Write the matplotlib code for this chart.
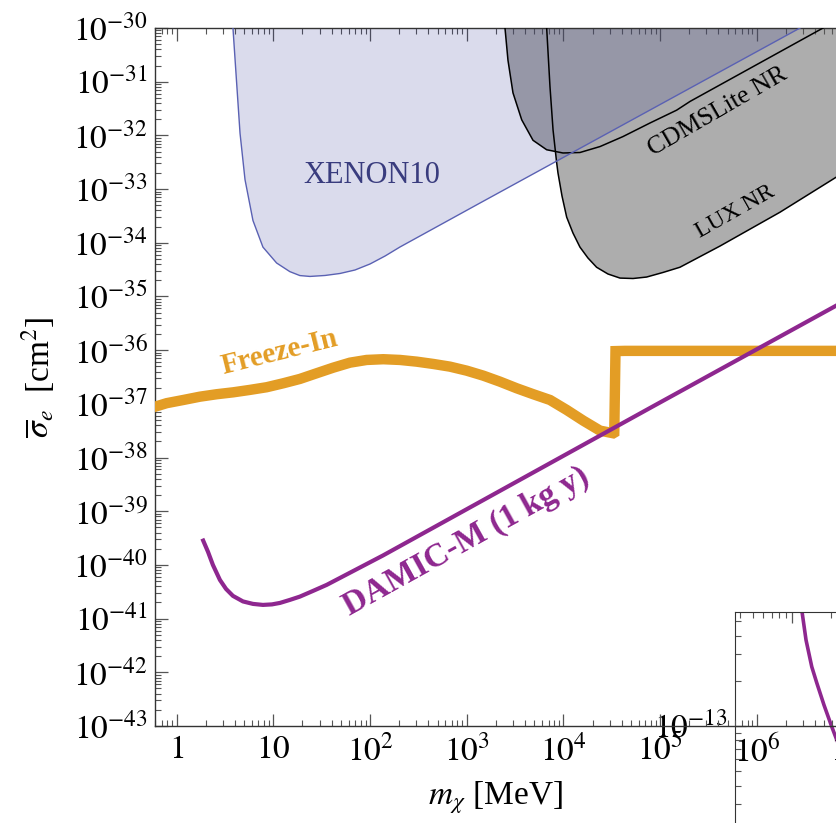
import numpy as np
import matplotlib
matplotlib.use("Agg")
import matplotlib.pyplot as plt
from matplotlib.ticker import LogLocator, FuncFormatter, NullFormatter, FixedLocator

plt.rcParams['font.family'] = ['Liberation Serif', 'DejaVu Serif']
plt.rcParams['mathtext.fontset'] = 'stix'

# ---------------- data ----------------
xenon_m = [3.75, 3.82, 4.17, 4.52, 5.09, 6.15, 7.8, 10.8, 14.8, 18.8, 23.9, 34.2, 48.9, 69.8, 100, 143,
           204, 1370, 2.79e6, 4.0e6]
xenon_s = [1.6e-30, 1.0e-30, 9.5e-32, 1.1e-32, 1.5e-33, 2.6e-34, 8.3e-35, 4.2e-35, 2.9e-35, 2.45e-35,
           2.36e-35, 2.46e-35, 2.68e-35, 3.11e-35, 4.03e-35, 5.67e-35, 8.35e-35, 5.5e-34, 1.0e-30, 1.45e-30]

cdms_m = [2450, 2484, 2667, 3004, 3698, 4840, 6700, 9880, 14800, 23900, 41200, 78400, 148000, 204000, 4.83e6, 6.0e6]
cdms_s = [1.6e-30, 1.0e-30, 2.5e-31, 6.2e-32, 1.95e-32, 8.1e-33, 5.4e-33, 4.7e-33, 4.8e-33, 6.2e-33,
          9.5e-33, 1.7e-32, 2.95e-32, 4.3e-32, 1.0e-30, 1.35e-30]

lux_m = [6600, 6700, 7250, 7800, 8500, 8770, 9650, 10790, 12530, 14800, 17900, 22000, 28840, 38400,
         52360, 72400, 107000, 160000, 416000, 1.73e6, 6.73e6, 2e7]
lux_s = [1.6e-30, 1.0e-30, 8.1e-32, 1.26e-32, 3.1e-33, 2.0e-33, 7.45e-34, 3.0e-34, 1.52e-34, 8.3e-35,
         5.21e-35, 3.5e-35, 2.62e-35, 2.2e-35, 2.16e-35, 2.3e-35, 2.8e-35, 3.5e-35, 8.7e-35, 3.7e-34,
         1.7e-33, 5.0e-33]

freeze_m = [0.5, 0.53, 0.789, 1.17, 1.74, 2.59, 3.85, 5.73, 8.53, 12.7, 18.8, 28.1, 41.6, 62, 92.2, 137,
            204, 303, 451, 670, 998, 1482, 2203, 3281, 4872, 7260, 10790, 16030, 23870, 32730, 33500,
            34500, 43200, 1e6, 2e7]
freeze_s = [7.9e-38, 8.28e-38, 1.03e-37, 1.18e-37, 1.36e-37, 1.51e-37, 1.64e-37, 1.82e-37, 2.04e-37,
            2.42e-37, 2.91e-37, 3.72e-37, 4.72e-37, 5.85e-37, 6.57e-37, 6.78e-37, 6.57e-37, 6.11e-37,
            5.53e-37, 4.93e-37, 4.15e-37, 3.35e-37, 2.59e-37, 1.95e-37, 1.51e-37, 1.18e-37, 7.7e-38,
            4.86e-38, 3.17e-38, 2.83e-38, 2.9e-38, 9.6e-37, 9.7e-37, 9.7e-37, 9.7e-37]

damic_m = [1.88, 2.11, 2.37, 2.80, 3.24, 3.82, 4.85, 6.15, 7.8, 9.67, 11.7, 14.8, 18.8, 25.7, 35.6, 136,
           78700, 6.76e6, 2e7]
damic_s = [2.84e-40, 1.75e-40, 1.0e-40, 5.26e-41, 3.57e-41, 2.65e-41, 2.09e-41, 1.88e-41, 1.80e-41,
           1.84e-41, 1.96e-41, 2.23e-41, 2.57e-41, 3.28e-41, 4.25e-41, 1.5e-40, 8.4e-38, 6.9e-36, 2.0e-35]

inset_m = [11.6, 12.88, 14.26, 15.57, 17.7, 20.3, 22.2, 28.1]
inset_y = [7.1e-13, 3.74e-13, 2.48e-13, 1.94e-13, 1.38e-13, 9.9e-14, 8.07e-14, 5.1e-14]
inset_yticks = [1e-13]

x_ticks = [1, 10, 1e2, 1e3, 1e4, 1e5, 1e6, 1e7]

# ---------------- colours ----------------
c_orange = '#e39d25'
c_purple = '#8e278f'
c_xenon_edge = '#5a61b3'
c_xenon_fill = (0.145, 0.17, 0.56, 0.17)
c_gray = '#adadad'
c_tick = '#555555'

fig = plt.figure(figsize=(8.37, 8.23), dpi=100)

# inset (partially visible at the lower right)
ax_in = fig.add_axes([735 / 837, 1 - 960 / 823, (920 - 735) / 837, (960 - 612) / 823])
ax_in.set_zorder(1)
ax_in.set_xscale('log')
ax_in.set_yscale('log')
ax_in.set_xlim(3.66, 97)
ax_in.set_ylim(2.75e-15, 5.75e-13)
ax_in.plot(inset_m, inset_y, color=c_purple, lw=2.6)
ax_in.yaxis.set_major_locator(FixedLocator(inset_yticks))
ax_in.yaxis.set_major_formatter(FuncFormatter(lambda v, p: r'$10^{%d}$' % int(round(np.log10(v)))))
ax_in.yaxis.set_minor_locator(LogLocator(base=10, subs=np.arange(2, 10), numticks=20))
ax_in.yaxis.set_minor_formatter(NullFormatter())
ax_in.tick_params(which='both', direction='in', top=True, left=True, color=c_tick, labelsize=24, pad=5,
                  labelbottom=False)
ax_in.tick_params(which='major', length=8, width=0.9)
ax_in.tick_params(which='minor', length=4, width=0.8)
for sp in ax_in.spines.values():
    sp.set_color('#333333')

# main axes
ax = fig.add_axes([155 / 837, 1 - 726 / 823, 698.6 / 837, 698 / 823])
ax.set_zorder(2)
ax.patch.set_visible(False)
ax.set_xscale('log')
ax.set_yscale('log')
ax.set_xlim(0.597, 1e7)
ax.set_ylim(1e-43, 1e-30)

# exclusion regions
ax.fill(lux_m + [2e7], lux_s + [1.6e-30], color=c_gray, lw=0, zorder=1)
ax.fill(cdms_m, cdms_s, color=c_gray, lw=0, zorder=1)
ax.fill(xenon_m, xenon_s, color=c_xenon_fill, lw=0, zorder=2)
ax.plot(lux_m, lux_s, color='black', lw=1.1, zorder=3)
ax.plot(cdms_m, cdms_s, color='black', lw=1.1, zorder=3)
ax.plot(xenon_m, xenon_s, color=c_xenon_edge, lw=1.0, zorder=3)

# curves
ax.plot(freeze_m, freeze_s, color=c_orange, lw=7.5, solid_joinstyle='miter', solid_capstyle='butt', zorder=4)
ax.plot(damic_m, damic_s, color=c_purple, lw=3.0, zorder=5)

# annotations
ax.text(105, 1.8e-33, 'XENON10', color='#393c7e', fontsize=22, ha='center', va='center', zorder=6)
ax.text(3.9e5, 2.75e-32, 'CDMSLite NR', color='black', fontsize=18.5, rotation=30,
        ha='center', va='center', rotation_mode='anchor', zorder=6)
ax.text(5.94e5, 3.7e-34, 'LUX NR', color='black', fontsize=17, rotation=29.5,
        ha='center', va='center', rotation_mode='anchor', zorder=6)
ax.text(11.7, 9.3e-37, 'Freeze-In', color=c_orange, fontsize=21, fontweight='bold', rotation=14,
        ha='center', va='center', rotation_mode='anchor', zorder=6)
ax.text(988, 2.8e-40, 'DAMIC-M (1 kg y)', color=c_purple, fontsize=24, fontweight='bold', rotation=29,
        ha='center', va='center', rotation_mode='anchor', zorder=6)

# ticks
ax.xaxis.set_major_locator(FixedLocator(x_ticks))
ax.xaxis.set_minor_locator(LogLocator(base=10, subs=np.arange(2, 10), numticks=20))
ax.yaxis.set_major_locator(LogLocator(base=10, numticks=20))
ax.yaxis.set_minor_locator(LogLocator(base=10, subs=np.arange(2, 10), numticks=20))
ax.xaxis.set_minor_formatter(NullFormatter())
ax.yaxis.set_minor_formatter(NullFormatter())


def xfmt(v, pos):
    e = int(round(np.log10(v)))
    if e == 0:
        return r'$1$'
    if e == 1:
        return r'$10$'
    return r'$10^{%d}$' % e


def yfmt(v, pos):
    e = int(round(np.log10(v)))
    return r'$10^{%d}$' % e


ax.xaxis.set_major_formatter(FuncFormatter(xfmt))
ax.yaxis.set_major_formatter(FuncFormatter(yfmt))
ax.tick_params(which='both', direction='in', top=True, right=True, color=c_tick, labelsize=24)
ax.tick_params(axis='x', pad=6)
ax.tick_params(axis='y', pad=5)
ax.tick_params(which='major', length=9, width=0.9)
ax.tick_params(which='minor', length=4.5, width=0.8)
for sp in ax.spines.values():
    sp.set_color('#333333')
    sp.set_linewidth(1.0)

ax.set_xlabel(r'$m_{\chi}$ [MeV]', fontsize=24)
ax.xaxis.set_label_coords(0.487, -0.077)
ax.set_ylabel(r'$\overline{\sigma}_e\ $ [cm$^2$]', fontsize=24)
ax.yaxis.set_label_coords(-0.14, 0.5)

fig.savefig('out.png', dpi=100)
